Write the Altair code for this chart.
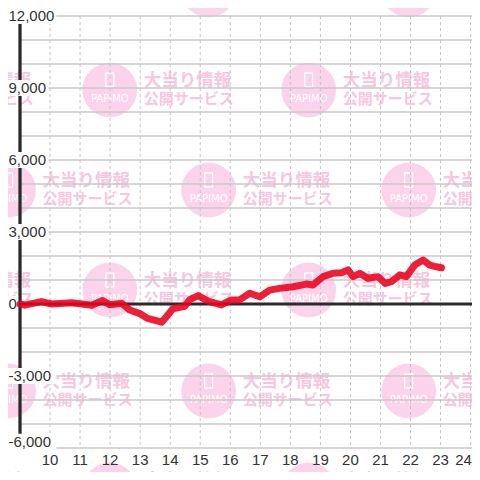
import altair as alt
import pandas as pd

# ---- data ----
hours = [9.00, 9.16, 9.71, 10.06, 10.72, 11.39, 11.75, 11.99, 12.39, 12.65,
         12.99, 13.25, 13.72, 14.09, 14.48, 14.65, 14.93, 15.26, 15.70, 16.04,
         16.31, 16.65, 16.98, 17.31, 17.64, 18.09, 18.53, 18.75, 19.09, 19.42,
         19.70, 19.92, 20.09, 20.31, 20.58, 20.92, 21.15, 21.36, 21.64, 21.86,
         22.14, 22.42, 22.64, 22.86, 23.03]
values = [0, -50, 100, 0, 50, -50, 150, -30, 30, -250,
          -400, -600, -760, -200, -100, 180, 350, 120, -40, 170,
          170, 450, 300, 580, 650, 720, 830, 790, 1140, 1280,
          1300, 1420, 1140, 1280, 1070, 1140, 860, 930, 1210, 1140,
          1620, 1830, 1620, 1550, 1510]

y_ticks = [-6000, -3000, 0, 3000, 6000, 9000, 12000]
y_tick_labels = ["-6,000", "-3,000", "0", "3,000", "6,000", "9,000", "12,000"]
y_grid = [-6000, -5000, -4000, -3000, -2000, -1000, 1000, 2000, 3000,
          4000, 5000, 6000, 7000, 8000, 9000, 10000, 11000, 12000]
x_ticks = [10, 11, 12, 13, 14, 15, 16, 17, 18, 19, 20, 21, 22, 23, 24]

# watermark tiles (background decoration)
wm_hours_a = [8.62, 15.28, 21.94]
wm_vals_a = [13083, 4750, -3625]
wm_hours_b = [5.33, 11.99, 18.61]
wm_vals_b = [8917, 583, -7750]
wm_line1 = "大当り情報"
wm_line2 = "公開サービス"
wm_logo = "PAPIMO"

# ---- tables ----
line_df = pd.DataFrame({"h": hours, "v": values})
ytick_df = pd.DataFrame({"v": y_ticks, "txt": y_tick_labels})
ygrid_df = pd.DataFrame({"v": y_grid})
xtick_df = pd.DataFrame({"h": x_ticks, "v": [y_ticks[0]] * len(x_ticks)})
wm_rows = []
for hs, vs in ((wm_hours_a, wm_vals_a), (wm_hours_b, wm_vals_b)):
    for v in vs:
        for h in hs:
            wm_rows.append({"h": h, "v": v})
wm_df = pd.DataFrame(wm_rows)

PX_H = 30.04     # pixels per hour
PX_V = 0.024     # pixels per unit
W = 452
H = 432
xs = alt.Scale(domain=[9, 9 + W / PX_H], nice=False, zero=False)
ys = alt.Scale(domain=[-6000, 12000], nice=False, zero=False)


def X(f="h"):
    return alt.X(f"{f}:Q", scale=xs, axis=None)


def Y(f="v"):
    return alt.Y(f"{f}:Q", scale=ys, axis=None)


PINK = "#fbd3ea"
PINK_T = "#f7c6e0"
FONT = "Liberation Sans"
CJK = "Noto Sans CJK JP"
INK = "#333333"

base_wm = alt.Chart(wm_df)
wm_circle = base_wm.mark_circle(size=3000, color=PINK, opacity=1).encode(x=X(), y=Y())
phone = "M-0.57,-2.43 L0.57,-2.43 L0.57,-0.43 L-0.57,-0.43 Z"
wm_icon = base_wm.mark_point(shape=phone, size=196, filled=False, stroke="white",
                             strokeWidth=1.3, opacity=1).encode(x=X(), y=Y())
wm_logo_t = base_wm.mark_text(text=wm_logo, color="white", font="DejaVu Sans",
                              fontSize=10, dy=9, baseline="middle").encode(x=X(), y=Y())
wm_t1 = base_wm.mark_text(text=wm_line1, color=PINK_T, font=CJK, fontWeight="bold",
                          fontSize=17.5, align="left", baseline="middle",
                          dx=34, dy=-9).encode(x=X(), y=Y())
wm_t2 = base_wm.mark_text(text=wm_line2, color=PINK_T, font=CJK, fontWeight="bold",
                          fontSize=15, align="left", baseline="middle",
                          dx=34, dy=9).encode(x=X(), y=Y())

hgrid = alt.Chart(ygrid_df).mark_rule(color="#c8c8c8", strokeWidth=1.3).encode(y=Y())
vgrid = alt.Chart(xtick_df).mark_rule(color="#c4c4c4", strokeWidth=1,
                                      strokeDash=[3, 3]).encode(x=X())
zero = alt.Chart(pd.DataFrame({"v": [0]})).mark_rule(color="#2b2b2b", strokeWidth=3).encode(y=Y())
axis_bar = alt.Chart(pd.DataFrame({"h": [9]})).mark_rule(color="#2b2b2b", strokeWidth=3.3).encode(x=X())

# y labels sit over the axis line on small white plates
lab = alt.Chart(ytick_df).transform_calculate(
    ypos="max(datum.v, -5740)",
    h="9",
)
L_DX = -11.5
box = lab.transform_calculate(
    y1="datum.ypos - 8 / %f" % PX_V,
    y2="datum.ypos + 8 / %f" % PX_V,
    x1="9 + (%f - 1) / %f" % (L_DX, PX_H),
    x2="9 + (%f + length(datum.txt) * 7.65 + 2) / %f" % (L_DX, PX_H),
).mark_rect(color="white").encode(
    x=X("x1"), x2="x2:Q", y=Y("y1"), y2="y2:Q")

ylabels = lab.mark_text(
    align="left", baseline="middle", dx=L_DX, font=FONT, fontSize=15, color=INK
).encode(x=X(), y=Y("ypos"), text="txt:N")

xl = alt.Chart(xtick_df)
xlabels = xl.transform_filter("datum.h < 24").mark_text(
    font=FONT, fontSize=15, color=INK, baseline="middle", dy=12
).encode(x=X(), y=Y(), text=alt.Text("h:Q", format="d"))
xlabel_last = xl.transform_filter("datum.h >= 24").mark_text(
    font=FONT, fontSize=15, color=INK, baseline="middle", dy=12, align="right", dx=1.3
).encode(x=X(), y=Y(), text=alt.Text("h:Q", format="d"))

red = alt.Chart(line_df).mark_line(color="#eb001e", opacity=0.88, strokeWidth=7,
                                   strokeCap="round", strokeJoin="round").encode(x=X(), y=Y())

chart = alt.layer(
    wm_circle, wm_icon, wm_logo_t, wm_t1, wm_t2,
    hgrid, vgrid, zero, axis_bar, box, ylabels, xlabels, xlabel_last, red,
).properties(
    width=W, height=H,
    padding={"left": 12, "top": 8, "right": 0, "bottom": 24},
    autosize=alt.AutoSizeParams(type="none"),
    background="white",
).configure_view(strokeWidth=0)

chart.save("out.html", embed_options={"renderer": "svg", "actions": False})
